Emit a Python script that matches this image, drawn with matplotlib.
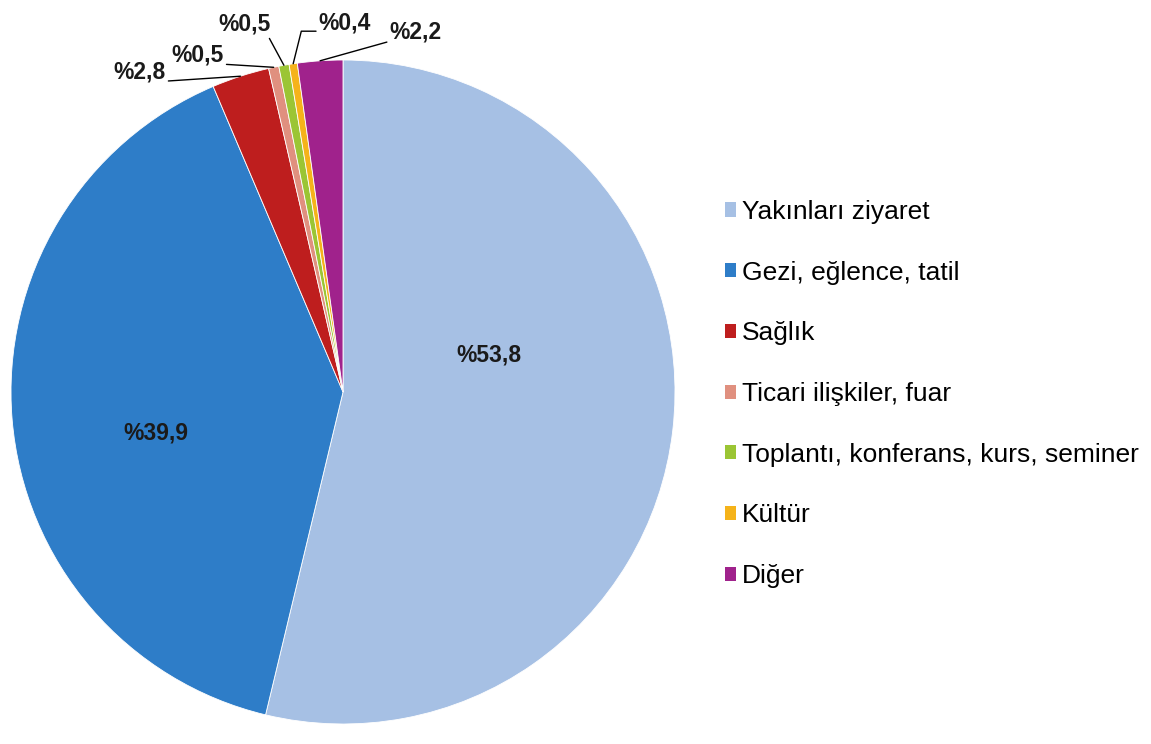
import numpy as np
import matplotlib
matplotlib.use("Agg")
import matplotlib.pyplot as plt
from matplotlib.patches import Patch

plt.rcParams['font.family'] = ['Liberation Sans', 'DejaVu Sans']

# Veriler
kategoriler = ['Yakınları ziyaret', 'Gezi, eğlence, tatil', 'Sağlık',
               'Ticari ilişkiler, fuar', 'Toplantı, konferans, kurs, seminer',
               'Kültür', 'Diğer']
oranlar = [53.8, 39.9, 2.8, 0.5, 0.5, 0.4, 2.2]
etiketler = ['%53,8', '%39,9', '%2,8', '%0,5', '%0,5', '%0,4', '%2,2']
renkler = ['#A6C0E4', '#2E7DC8', '#BE1E1E', '#E0907F', '#9BC534', '#F5B31A', '#A0228C']

# Etiket yerleri (pasta koordinatlarında)
etiket_yeri = [(0.441, 0.111), (-0.565, -0.123), (-0.613, 0.964), (-0.438, 1.015),
               (-0.297, 1.108), (0.006, 1.111), (0.219, 1.084)]
baglanti = [None, None, 'arc3', 'arc3', 'arc3', 'angle,angleA=0,angleB=76,rad=0', 'arc3']
relpos = [None, None, (1.0, 0.1), (1.0, 0.1), (0.95, 0.0), (0.0, 0.15), (0.0, 0.1)]

fig = plt.figure(figsize=(11.51, 7.44), dpi=100)
cx, cy = 343 / 1151, 1 - 392 / 744
rw, rh = 332 / 1151, 332 / 744
ax = fig.add_axes([cx - rw, cy - rh, 2 * rw, 2 * rh])

wedges, _ = ax.pie(oranlar, colors=renkler, startangle=90, counterclock=False,
                   radius=1, normalize=True,
                   wedgeprops=dict(edgecolor='white', linewidth=0.6))
ax.set_xlim(-1, 1)
ax.set_ylim(-1, 1)
ax.set_aspect('equal')
ax.axis('off')

for i, w in enumerate(wedges):
    if baglanti[i] is None:
        ax.text(*etiket_yeri[i], etiketler[i], ha='center', va='center',
                fontsize=16.5, fontweight='bold', color='#1a1a1a')
    else:
        orta = np.deg2rad((w.theta1 + w.theta2) / 2)
        ax.annotate(etiketler[i], xy=(np.cos(orta), np.sin(orta)),
                    xytext=etiket_yeri[i], ha='center', va='center',
                    fontsize=16.5, fontweight='bold', color='#1a1a1a',
                    annotation_clip=False,
                    arrowprops=dict(arrowstyle='-', color='black', lw=1.0,
                                    shrinkA=0, shrinkB=0,
                                    connectionstyle=baglanti[i],
                                    relpos=relpos[i]))

tutamaklar = [Patch(facecolor=c, edgecolor='none') for c in renkler]
fig.legend(tutamaklar, kategoriler, loc='center left',
           bbox_to_anchor=(714 / 1151, 1 - 394 / 744), frameon=False,
           fontsize=19, handlelength=0.45, handleheight=0.45,
           handletextpad=0.2, labelspacing=1.39, borderaxespad=0)

fig.savefig('out.png', dpi=100, facecolor='white')
